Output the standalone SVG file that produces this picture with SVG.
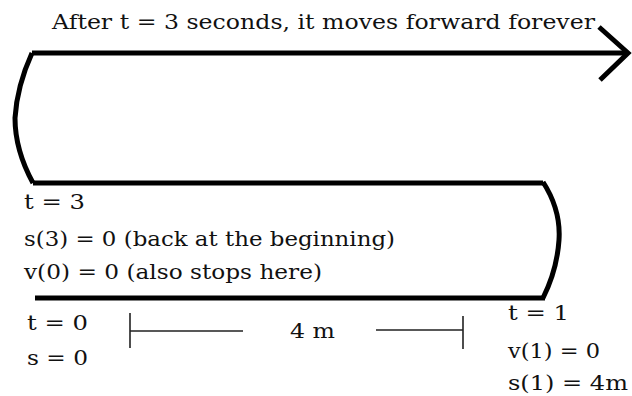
<svg xmlns="http://www.w3.org/2000/svg" width="632" height="396" viewBox="0 0 632 396">
<style>
  .t { font-family: "DejaVu Serif", "Liberation Serif", serif; font-size: 20px; fill: #111; }
  .path { fill: none; stroke: #000; stroke-width: 5; stroke-linejoin: miter; stroke-linecap: butt; }
  .dim { fill: none; stroke: #222; stroke-width: 1.6; }
</style>
<rect width="632" height="396" fill="#fff"/>
<g id="connectors">
  <path class="path" d="M32,53 L628,53"/>
  <path class="path" d="M599,27 L628,53 L600,80"/>
  <path class="path" d="M32,53 Q17,86 15,118 Q15,150 33,183"/>
  <path class="path" d="M33,183 L543,183"/>
  <path class="path" d="M543,182 Q561,210 559,240 Q557,270 543,298"/>
  <path class="path" d="M545,298 L35,298"/>
</g>
<g id="dimension">
  <path class="dim" d="M130,313 V348 M130,331 H243 M376,330 H463 M463,316 V349"/>
  <text class="t" x="290" y="338" textLength="45" lengthAdjust="spacingAndGlyphs">4 m</text>
</g>
<g id="title">
  <text class="t" x="52" y="29" textLength="543" lengthAdjust="spacingAndGlyphs">After t = 3 seconds, it moves forward forever</text>
</g>
<g id="t3">
  <text class="t" x="24" y="209" textLength="61" lengthAdjust="spacingAndGlyphs">t = 3</text>
  <text class="t" x="24" y="246" textLength="371" lengthAdjust="spacingAndGlyphs">s(3) = 0 (back at the beginning)</text>
  <text class="t" x="24" y="279" textLength="298" lengthAdjust="spacingAndGlyphs">v(0) = 0 (also stops here)</text>
</g>
<g id="t0">
  <text class="t" x="27" y="330" textLength="61" lengthAdjust="spacingAndGlyphs">t = 0</text>
  <text class="t" x="27" y="365" textLength="61" lengthAdjust="spacingAndGlyphs">s = 0</text>
</g>
<g id="t1">
  <text class="t" x="508" y="320" textLength="61" lengthAdjust="spacingAndGlyphs">t = 1</text>
  <text class="t" x="508" y="358" textLength="92" lengthAdjust="spacingAndGlyphs">v(1) = 0</text>
  <text class="t" x="508" y="390" textLength="120" lengthAdjust="spacingAndGlyphs">s(1) = 4m</text>
</g>
</svg>
